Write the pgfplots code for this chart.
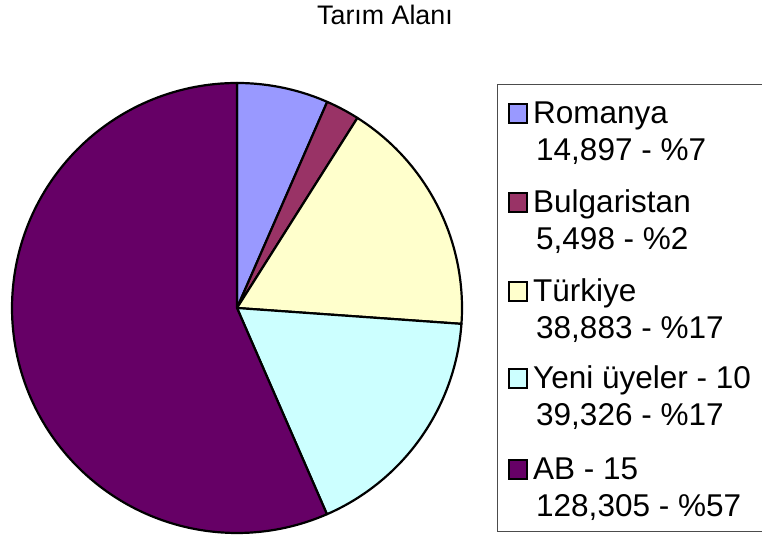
\documentclass[border=0pt]{standalone}
\usepackage{pgfplots}
\pgfplotsset{compat=1.18}
\usepackage{fontspec}
\setmainfont{Liberation Sans}
\definecolor{cRom}{HTML}{9999FF}
\definecolor{cBul}{HTML}{993366}
\definecolor{cTur}{HTML}{FFFFCC}
\definecolor{cYen}{HTML}{CCFFFF}
\definecolor{cAB}{HTML}{660066}
% values
\def\vRom{14897}
\def\vBul{5498}
\def\vTur{38883}
\def\vYen{39326}
\def\vAB{128305}
\edef\tot{\fpeval{\vRom+\vBul+\vTur+\vYen+\vAB}}
\edef\aA{\fpeval{90-360*\vRom/\tot}}
\edef\aB{\fpeval{\aA-360*\vBul/\tot}}
\edef\aC{\fpeval{\aB-360*\vTur/\tot}}
\edef\aD{\fpeval{\aC-360*\vYen/\tot}}
\edef\aE{\fpeval{\aD-360*\vAB/\tot}}
\begin{document}
\begin{tikzpicture}[x=1bp,y=1bp]
\useasboundingbox (0,0) rectangle (762,536);
\begin{axis}[at={(0,0)},anchor=south west,scale only axis,width=762bp,height=536bp,
  xmin=0,xmax=762,ymin=0,ymax=536,hide axis,clip=false]
\addplot[fill=cRom,draw=black,line width=2.2bp,domain=\aA:90,samples=40,line join=round]
  ({237+225*cos(x)},{228+225*sin(x)}) -- (axis cs:237,228) -- cycle;
\addplot[fill=cBul,draw=black,line width=2.2bp,domain=\aB:\aA,samples=20,line join=round]
  ({237+225*cos(x)},{228+225*sin(x)}) -- (axis cs:237,228) -- cycle;
\addplot[fill=cTur,draw=black,line width=2.2bp,domain=\aC:\aB,samples=60,line join=round]
  ({237+225*cos(x)},{228+225*sin(x)}) -- (axis cs:237,228) -- cycle;
\addplot[fill=cYen,draw=black,line width=2.2bp,domain=\aD:\aC,samples=60,line join=round]
  ({237+225*cos(x)},{228+225*sin(x)}) -- (axis cs:237,228) -- cycle;
\addplot[fill=cAB,draw=black,line width=2.2bp,domain=\aE:\aD,samples=150,line join=round]
  ({237+225*cos(x)},{228+225*sin(x)}) -- (axis cs:237,228) -- cycle;
\end{axis}
% title
\node[anchor=base,font=\fontsize{26.8bp}{32bp}\selectfont] at (385,511) {Tarım Alanı};
% legend
\draw[black!70,line width=1bp] (497,4) rectangle (820,451);
\foreach \b/\c/\n/\v in {124/cRom/Romanya/{14,897 - \%7},
                          213/cBul/Bulgaristan/{5,498 - \%2},
                          302/cTur/Türkiye/{38,883 - \%17},
                          389/cYen/Yeni üyeler - 10/{39,326 - \%17},
                          480/cAB/AB - 15/{128,305 - \%57}}{
  \filldraw[fill=\c,draw=black,line width=2bp] (509,536-\b+1) rectangle (527,536-\b+20);
  \node[anchor=base west,inner sep=0pt,font=\fontsize{31.5bp}{36bp}\selectfont] at (533,536-\b) {\n};
  \node[anchor=base west,inner sep=0pt,font=\fontsize{31.5bp}{36bp}\selectfont] at (536,536-\b-37) {\v};
}
\end{tikzpicture}
\end{document}
